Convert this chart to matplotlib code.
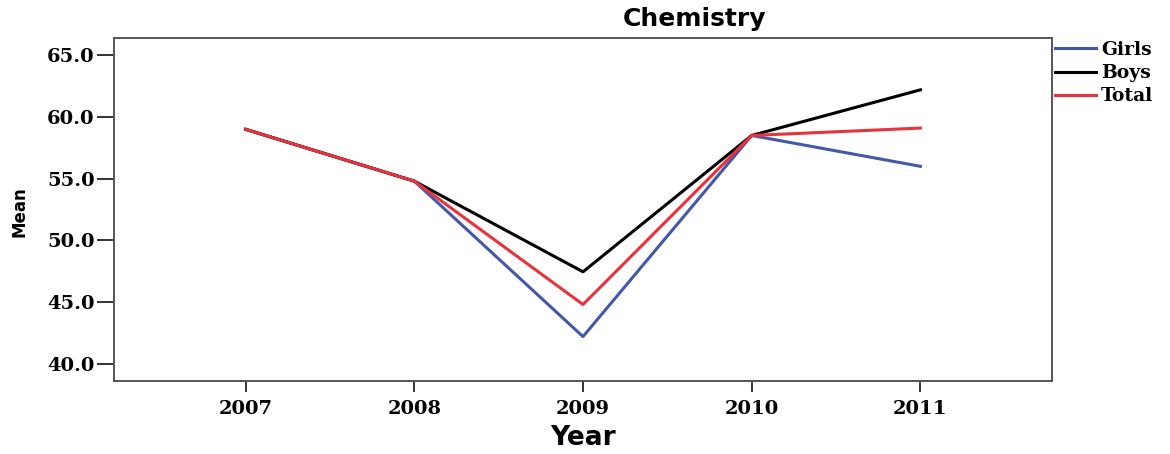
import matplotlib
matplotlib.use("Agg")
import matplotlib.pyplot as plt

years = [2007, 2008, 2009, 2010, 2011]
girls = [59.0, 54.8, 42.2, 58.5, 56.0]
boys = [59.0, 54.8, 47.45, 58.5, 62.2]
total = [59.0, 54.8, 44.8, 58.5, 59.1]
y_ticks = [40.0, 45.0, 50.0, 55.0, 60.0, 65.0]

W, H = 1170, 454
fig = plt.figure(figsize=(W / 100, H / 100), dpi=100)
ax = fig.add_axes([114 / W, 1 - 381 / H, (1052 - 114) / W, (381 - 38) / H])

ax.plot(years, girls, color="#4358a8", lw=2.2, label="Girls", zorder=3)
ax.plot(years, boys, color="#000000", lw=2.2, label="Boys", zorder=4)
ax.plot(years, total, color="#e8333c", lw=2.2, label="Total", zorder=5)

ax.set_xlim(2006.22, 2011.78)
ax.set_ylim(38.6, 66.4)
ax.set_xticks(years)
ax.set_xticklabels([str(y) for y in years])
ax.set_yticks(y_ticks)
ax.set_yticklabels([f"{v:.1f}" for v in y_ticks])

spine_col = "#555555"
for s in ax.spines.values():
    s.set_color(spine_col)
    s.set_linewidth(1.4)

for lab in ax.get_xticklabels() + ax.get_yticklabels():
    lab.set_fontfamily("DejaVu Serif")
    lab.set_fontweight("bold")
    lab.set_fontsize(14)
ax.tick_params(axis="y", direction="out", length=12, width=1.4, color="#333333", pad=2)
ax.tick_params(axis="x", direction="out", length=8, width=1.4, color="#333333", pad=6)

fig.text(20 / W, 1 - 212 / H, "Mean", rotation=90, ha="center", va="center",
         family="DejaVu Sans", weight="bold", size=12)
fig.text(583 / W, 1 - 438 / H, "Year", ha="center", va="center",
         family="DejaVu Sans", weight="bold", size=19)
fig.text(694 / W, 1 - 19 / H, "Chemistry", ha="center", va="center",
         family="DejaVu Sans", weight="bold", size=18)

leg = fig.legend(loc="upper left", bbox_to_anchor=(1055 / W, 1 - 41 / H),
                 frameon=False, borderpad=0, borderaxespad=0,
                 handlelength=2.2, handletextpad=0.25, labelspacing=0.27,
                 prop=dict(family="DejaVu Serif", weight="bold", size=13.5))

fig.savefig("out.png", dpi=100)
